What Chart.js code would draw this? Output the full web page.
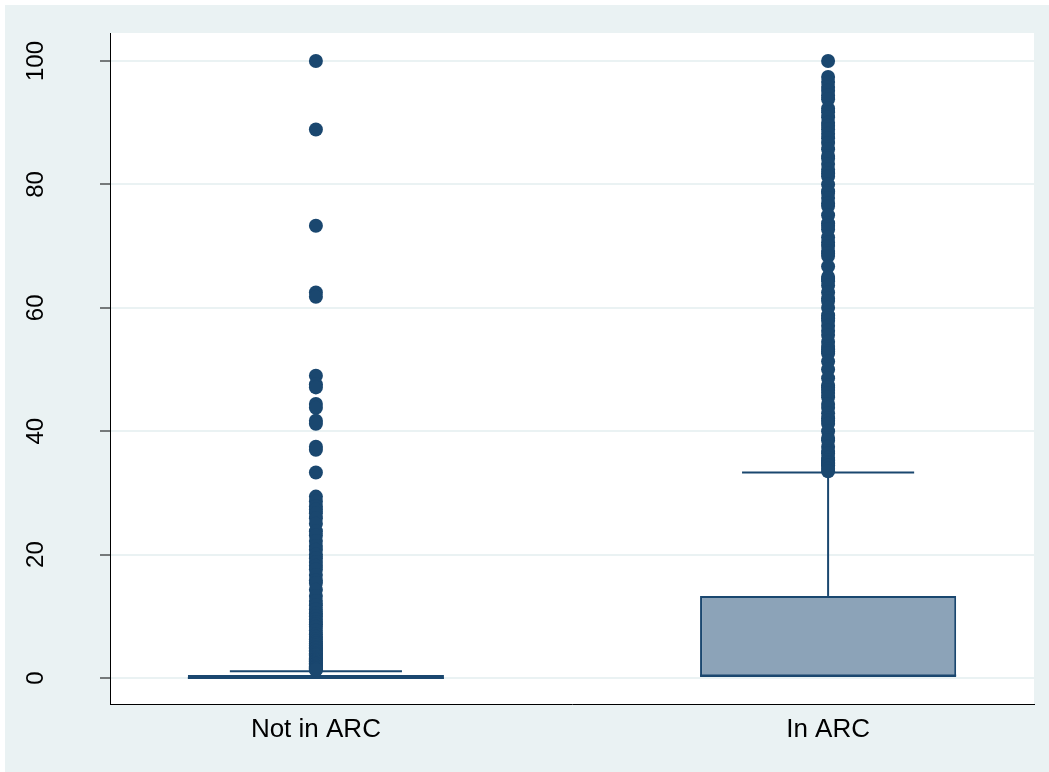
<!DOCTYPE html>
<html>
<head>
<meta charset="utf-8">
<script src="https://cdn.jsdelivr.net/npm/chart.js@4.4.1/dist/chart.umd.min.js"></script>
<style>
  html, body { margin: 0; padding: 0; background: #ffffff; }
  #wrap { width: 1049px; height: 772px; }
</style>
</head>
<body>
<div id="wrap"><canvas id="c" width="1049" height="772"></canvas></div>
<script>
// Box plot summary per group
const categories = ['Not in ARC', 'In ARC'];
const lowerWhisker = [0, 0];
const q1 = [0, 0];
const medians = [0, 0.4];
const q3 = [0.5, 13.3];
const upperWhisker = [1.1, 33.3];
const yTicks = [0, 20, 40, 60, 80, 100];

// Values beyond the upper whisker
const outliersNotInArc = [
  100, 88.9, 73.3, 62.5, 61.8, 49.0, 47.6, 47.1, 44.4, 43.8, 41.7, 41.2,
  37.5, 37.0, 33.3, 29.4, 28.6, 27.8, 27.3, 26.7, 25.9, 25.0, 23.8, 23.1,
  22.2, 21.4, 20.8, 20.0, 19.4, 18.8, 18.2, 17.6, 16.7, 15.8, 15.4, 14.3,
  13.3, 12.5, 11.8, 11.1, 10.5, 10.0, 9.5, 9.1, 8.7, 8.3, 7.7, 7.1, 6.7,
  6.3, 5.9, 5.6, 5.3, 5.0, 4.8, 4.5, 4.3, 4.0, 3.8, 3.7, 3.4, 3.2, 3.0,
  2.9, 2.7, 2.6, 2.4, 2.3, 2.2, 2.0, 1.9, 1.8, 1.7, 1.6, 1.5, 1.4, 1.3
];
const outliersInArc = [
  100, 97.4, 96.6, 95.8, 95.2, 94.4, 93.8, 92.3, 91.7, 90.9, 90.0, 89.5,
  88.9, 88.2, 87.5, 86.7, 85.7, 84.6, 84.2, 83.3, 82.4, 81.8, 81.3, 80.0,
  78.9, 78.6, 77.8, 76.9, 76.5, 75.0, 73.7, 73.3, 72.7, 71.4, 70.6, 70.0,
  69.2, 68.8, 68.4, 66.7, 65.0, 64.7, 64.3, 63.6, 62.5, 61.5, 61.1, 60.0,
  58.8, 58.3, 57.9, 57.1, 56.3, 55.6, 54.5, 53.8, 53.3, 52.9, 52.6, 51.3,
  50.0, 48.6, 47.4, 47.1, 46.7, 46.2, 45.5, 44.4, 43.8, 42.9, 42.1, 41.7,
  41.2, 40.0, 38.9, 38.5, 37.5, 36.8, 36.4, 35.7, 35.3, 35.0, 34.8, 34.5,
  34.4, 33.9, 33.5
];

const NAVY = '#1a476f';
const BOX_FILL = '#8ca3b8';
const OUTER_BG = '#eaf2f3';
const FONT = '"Liberation Sans", Arial, sans-serif';
const CAP_HALF = 0.168; // whisker cap half-width in x units

const frame = {
  id: 'frame',
  beforeDraw(chart) {
    const { ctx, chartArea: a } = chart;
    ctx.save();
    ctx.fillStyle = '#ffffff';
    ctx.fillRect(0, 0, chart.width, chart.height);
    ctx.fillStyle = OUTER_BG;
    ctx.fillRect(5, 5, chart.width - 5, chart.height - 5);
    ctx.fillStyle = '#ffffff';
    ctx.fillRect(a.left, a.top, a.right - a.left, a.bottom - a.top);
    ctx.restore();
  }
};

const whiskers = {
  id: 'whiskers',
  beforeDatasetsDraw(chart) {
    const { ctx, scales: { x, y } } = chart;
    ctx.save();
    ctx.strokeStyle = NAVY;
    ctx.lineWidth = 2;
    categories.forEach((c, i) => {
      const px = x.getPixelForValue(i);
      ctx.beginPath();
      ctx.moveTo(px, y.getPixelForValue(q3[i]));
      ctx.lineTo(px, y.getPixelForValue(upperWhisker[i]));
      ctx.moveTo(px, y.getPixelForValue(q1[i]));
      ctx.lineTo(px, y.getPixelForValue(lowerWhisker[i]));
      ctx.stroke();
      ctx.beginPath();
      const yw = y.getPixelForValue(upperWhisker[i]);
      ctx.moveTo(x.getPixelForValue(i - CAP_HALF), yw);
      ctx.lineTo(x.getPixelForValue(i + CAP_HALF), yw);
      ctx.stroke();
    });
    ctx.restore();
  },
  afterDatasetsDraw(chart) {
    const { ctx, scales: { y } } = chart;
    const bars = chart.getDatasetMeta(0).data;
    ctx.save();
    ctx.strokeStyle = NAVY;
    ctx.lineWidth = 2;
    bars.forEach((b, i) => {
      const ym = y.getPixelForValue(medians[i]);
      ctx.beginPath();
      ctx.moveTo(b.x - b.width / 2, ym);
      ctx.lineTo(b.x + b.width / 2, ym);
      ctx.stroke();
    });
    ctx.restore();
  },
  afterDraw(chart) {
    const { ctx, scales: { y } } = chart;
    ctx.save();
    ctx.fillStyle = '#000000';
    ctx.font = '24px ' + FONT;
    ctx.textAlign = 'center';
    ctx.textBaseline = 'alphabetic';
    yTicks.forEach(v => {
      ctx.save();
      ctx.translate(43, y.getPixelForValue(v));
      ctx.rotate(-Math.PI / 2);
      ctx.fillText(String(v), 0, 0);
      ctx.restore();
    });
    ctx.restore();
  }
};

new Chart(document.getElementById('c'), {
  data: {
    datasets: [
      {
        type: 'bar',
        data: categories.map((c, i) => ({ x: i, y: [q1[i], q3[i]] })),
        backgroundColor: BOX_FILL,
        borderColor: NAVY,
        borderWidth: 2,
        borderSkipped: false,
        categoryPercentage: 1,
        barPercentage: 0.5,
        grouped: false,
        order: 2
      },
      {
        type: 'scatter',
        data: outliersNotInArc.map(v => ({ x: 0, y: v })),
        backgroundColor: NAVY,
        borderWidth: 0,
        pointRadius: 7,
        order: 1
      },
      {
        type: 'scatter',
        data: outliersInArc.map(v => ({ x: 1, y: v })),
        backgroundColor: NAVY,
        borderWidth: 0,
        pointRadius: 7,
        order: 1
      }
    ]
  },
  options: {
    responsive: false,
    devicePixelRatio: 1,
    animation: false,
    events: [],
    layout: { padding: { left: 0, top: 33, right: 15, bottom: 0 } },
    plugins: { legend: { display: false }, tooltip: { enabled: false } },
    scales: {
      x: {
        type: 'linear',
        min: -0.402,
        max: 1.402,
        offset: false,
        afterBuildTicks: s => { s.ticks = categories.map((c, i) => ({ value: i })); },
        afterFit: s => { s.height = 68; },
        grid: { display: false, drawTicks: false, offset: false },
        border: { display: true, color: '#000000', width: 1 },
        ticks: {
          callback: v => categories[v],
          font: { family: FONT, size: 26 },
          color: '#000000',
          padding: 10,
          maxRotation: 0,
          autoSkip: false
        }
      },
      y: {
        type: 'linear',
        min: -4.21,
        max: 104.54,
        afterBuildTicks: s => { s.ticks = yTicks.map(v => ({ value: v })); },
        afterFit: s => { s.width = 110; },
        grid: { color: OUTER_BG, lineWidth: 2, drawTicks: true, tickLength: 10, tickColor: '#000000', tickWidth: 1 },
        border: { display: true, color: '#000000', width: 1 },
        ticks: { display: false }
      }
    }
  },
  plugins: [frame, whiskers]
});
</script>
</body>
</html>
